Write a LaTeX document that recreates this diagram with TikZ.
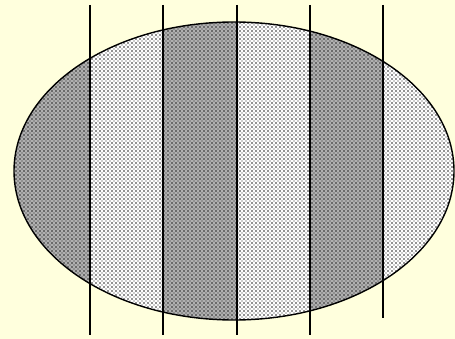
\documentclass[tikz,border=0pt]{standalone}
\usetikzlibrary{patterns}
\pgfdeclarepatternformonly{bigdots}{\pgfqpoint{-1pt}{-1pt}}{\pgfqpoint{3pt}{3pt}}{\pgfqpoint{4pt}{4pt}}{%
  \pgfpathcircle{\pgfqpoint{0pt}{0pt}}{0.9pt}\pgfusepath{fill}%
  \pgfpathcircle{\pgfqpoint{2pt}{2pt}}{0.6pt}\pgfusepath{fill}}
\definecolor{bgyellow}{RGB}{255,255,221}
\definecolor{stripgray}{RGB}{176,176,176}
\tikzset{
  graystrip/.style={fill=stripgray, postaction={pattern=bigdots, pattern color=black!85}},
  whitestrip/.style={fill=white, postaction={pattern=bigdots, pattern color=black!85}},
  divider/.style={draw=black, line width=1.4pt},
  outline/.style={draw=black, line width=1.4pt}
}
\begin{document}
\begin{tikzpicture}[x=1pt,y=-1pt]
  \fill[bgyellow] (0,0) rectangle (455,339);
  \useasboundingbox (0,0) rectangle (455,339);
  \begin{scope}
    \clip (234,171) ellipse [x radius=220, y radius=149];
    \path[graystrip] (0,0) rectangle (90,339);
    \path[whitestrip] (90,0) rectangle (163,339);
    \path[graystrip] (163,0) rectangle (237,339);
    \path[whitestrip] (237,0) rectangle (310,339);
    \path[graystrip] (310,0) rectangle (383,339);
    \path[whitestrip] (383,0) rectangle (455,339);
  \end{scope}
  \path[outline] (234,171) ellipse [x radius=220, y radius=149];
  \coordinate (t1) at (90,5);  \coordinate (b1) at (90,335);
  \coordinate (t2) at (163,5); \coordinate (b2) at (163,335);
  \coordinate (t3) at (237,5); \coordinate (b3) at (237,335);
  \coordinate (t4) at (310,5); \coordinate (b4) at (310,335);
  \coordinate (t5) at (383,5); \coordinate (b5) at (383,318);
  \draw[divider] (t1) -- (b1);
  \draw[divider] (t2) -- (b2);
  \draw[divider] (t3) -- (b3);
  \draw[divider] (t4) -- (b4);
  \draw[divider] (t5) -- (b5);
\end{tikzpicture}
\end{document}
